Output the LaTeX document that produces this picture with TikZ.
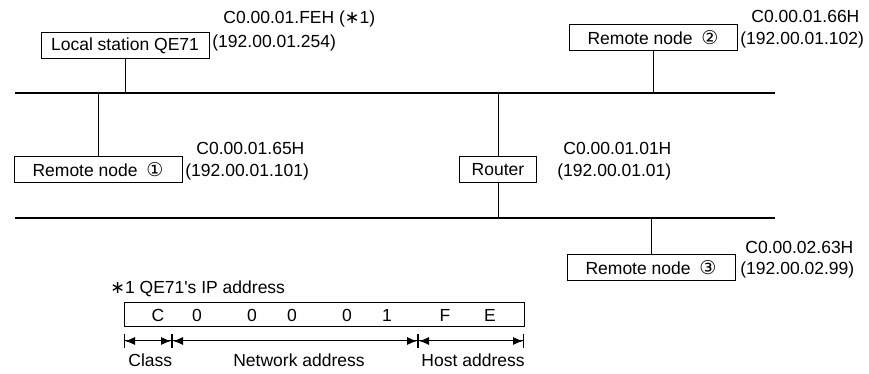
\documentclass[tikz,border=0pt]{standalone}
\usepackage{fontspec}
\setmainfont{Liberation Sans}
\newfontfamily\symfont{DejaVu Sans}
\usetikzlibrary{arrows.meta,positioning}
\newcommand{\cnum}[1]{\enspace{\symfont\fontsize{9.5}{10}\selectfont #1}}
\newcommand{\noteast}{{\symfont ∗}}

\begin{document}
\begin{tikzpicture}[x=0.5pt,y=-0.5pt,font=\fontsize{8.75}{10.5}\selectfont,
  station/.style={draw,line width=0.5pt,minimum width=84pt,minimum height=13pt,inner xsep=5pt,inner ysep=0pt},
  ipaddr/.style={anchor=west,inner sep=0pt},
  bus/.style={line width=0.6pt},
  span/.style={line width=0.5pt,{Bar[width=7pt]Latex[length=5pt,width=4pt]}-{Latex[length=5pt,width=4pt]Bar[width=7pt]}}]
\useasboundingbox (0,0) rectangle (869,374);
% network lines
\coordinate (n1w) at (15,93);
\coordinate (n1e) at (775,93);
\coordinate (n2w) at (15,218);
\coordinate (n2e) at (775,218);
\draw[bus] (n1w)--(n1e);
\draw[bus] (n2w)--(n2e);
% stations
\node[station] (local) at (125,46) {Local station QE71};
\node[station] (rn2) at (653,38) {Remote node\cnum{②}};
\node[station] (rn1) at (98,170) {Remote node\cnum{①}};
\node[station,minimum width=0pt,inner xsep=6pt] (router) at (498,170) {Router};
\node[station] (rn3) at (651,268) {Remote node\cnum{③}};
\draw (local)--(local|-n1w);
\draw (rn2)--(rn2|-n1w);
\draw (rn1)--(rn1|-n1w);
\draw (router)--(router|-n1w);
\draw (router)--(router|-n2w);
\draw (rn3)--(rn3|-n2w);
% addresses
\node[ipaddr] (lochex) at (223,19) {C0.00.01.FEH (\noteast1)};
\node[ipaddr] (locip) at (212,43) {(192.00.01.254)};
\node[ipaddr] (rn2hex) at (751,16) {C0.00.01.66H};
\node[ipaddr] (rn2ip) at (740,40) {(192.00.01.102)};
\node[ipaddr] (rn1hex) at (196,148) {C0.00.01.65H};
\node[ipaddr] (rn1ip) at (185,172) {(192.00.01.101)};
\node[ipaddr] (rthex) at (563,148) {C0.00.01.01H};
\node[ipaddr] (rtip) at (557,172) {(192.00.01.01)};
\node[ipaddr] (rn3hex) at (745,247) {C0.00.02.63H};
\node[ipaddr] (rn3ip) at (740,270) {(192.00.02.99)};
% note *1
\node[ipaddr] (note) at (110,289) {\noteast1 QE71\textquotesingle s IP address};
\node[draw,line width=0.5pt,minimum width=200pt,minimum height=12pt,inner sep=0pt] (ipbox) at (324,315) {};
\foreach \ch/\x [count=\i] in {C/158,0/197,0/252,0/292,0/347,1/387,F/445,E/490}
  \node[inner sep=0pt] (d\i) at (\x,315) {\ch};
\coordinate (s0) at (124,341);
\coordinate (s1) at (172,341);
\coordinate (s2) at (418,341);
\coordinate (s3) at (524,341);
\draw[span] (s0)--(s1);
\draw[span] (s1)--(s2);
\draw[span] (s2)--(s3);
\node[ipaddr] (cls) at (128,360) {Class};
\node[inner sep=0pt] (net) at (299,360) {Network address};
\node[inner sep=0pt,anchor=east] (host) at (525,360) {Host address};
\end{tikzpicture}
\end{document}
